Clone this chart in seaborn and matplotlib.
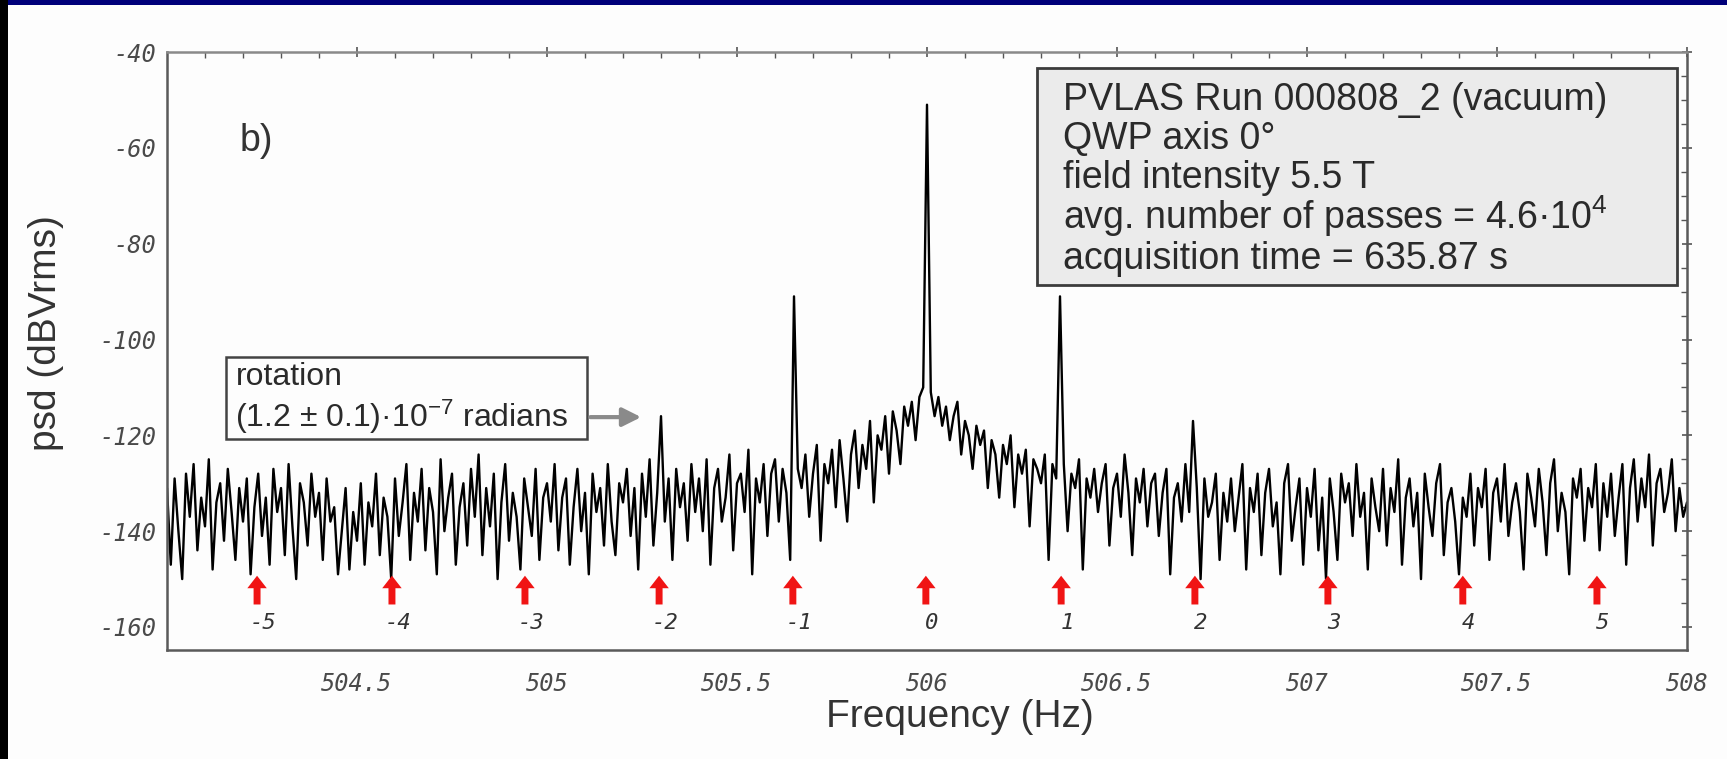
import numpy as np
import pandas as pd
import matplotlib
matplotlib.use("Agg")
import matplotlib.pyplot as plt
import seaborn as sns
from matplotlib.patches import Rectangle

# ---- data -------------------------------------------------------------
# Power spectral density (dBVrms), one value every 0.01 Hz from 504.00 Hz
freq_start = 504.0
freq_step = 0.01
psd_dbv = np.array([
    # 504.00 - 504.19
    -131, -147, -129, -140, -150, -128, -137, -126, -144, -133, -139, -125, -148, -134, -130, -142, -127, -136, -146, -131,
    # 504.20 - 504.39
    -138, -129, -149, -135, -128, -141, -133, -147, -127, -136, -131, -145, -126, -139, -150, -130, -134, -143, -128, -137,
    # 504.40 - 504.59
    -132, -146, -129, -138, -135, -149, -140, -131, -148, -136, -142, -130, -147, -134, -139, -128, -145, -133, -137, -150,
    # 504.60 - 504.79
    -129, -141, -134, -126, -146, -132, -138, -127, -144, -131, -136, -149, -125, -140, -133, -128, -147, -135, -130, -143,
    # 504.80 - 504.99
    -127, -137, -124, -145, -131, -139, -128, -150, -134, -126, -142, -132, -137, -148, -129, -135, -141, -127, -146, -133,
    # 505.00 - 505.19
    -130, -138, -126, -144, -133, -129, -147, -135, -127, -140, -132, -149, -128, -136, -131, -143, -126, -138, -145, -130,
    # 505.20 - 505.39
    -134, -127, -141, -131, -148, -128, -137, -125, -143, -132, -116, -138, -129, -146, -127, -135, -130, -142, -126, -136,
    # 505.40 - 505.59
    -129, -140, -125, -147, -131, -127, -138, -133, -124, -144, -130, -128, -136, -123, -149, -129, -134, -126, -141, -128,
    # 505.60 - 505.79
    -125, -138, -127, -132, -146, -91, -127, -131, -124, -137, -128, -122, -142, -126, -130, -123, -135, -121, -129, -138,
    # 505.80 - 505.99
    -124, -119, -131, -122, -127, -117, -134, -120, -123, -116, -128, -115, -119, -126, -114, -118, -113, -121, -112, -110,
    # 506.00 - 506.19
    -51, -111, -116, -112, -118, -114, -121, -116, -113, -124, -117, -120, -127, -118, -122, -119, -131, -121, -124, -133,
    # 506.20 - 506.39
    -122, -126, -120, -135, -124, -128, -123, -139, -125, -127, -130, -124, -146, -126, -129, -91, -126, -140, -128, -131,
    # 506.40 - 506.59
    -125, -148, -129, -133, -127, -136, -130, -126, -143, -131, -128, -137, -124, -132, -145, -129, -134, -127, -139, -130,
    # 506.60 - 506.79
    -128, -141, -132, -127, -149, -133, -130, -138, -126, -136, -117, -131, -150, -129, -137, -134, -128, -146, -132, -138,
    # 506.80 - 506.99
    -129, -140, -133, -126, -148, -131, -136, -128, -145, -132, -127, -139, -134, -149, -130, -126, -142, -135, -129, -147,
    # 507.00 - 507.19
    -131, -137, -127, -144, -133, -150, -129, -136, -146, -128, -134, -130, -141, -126, -137, -132, -148, -129, -135, -140,
    # 507.20 - 507.39
    -127, -143, -131, -136, -125, -147, -133, -129, -139, -132, -150, -128, -135, -141, -130, -126, -145, -134, -131, -138,
    # 507.40 - 507.59
    -149, -133, -137, -128, -143, -131, -135, -127, -146, -132, -129, -138, -126, -141, -134, -130, -136, -148, -128, -133,
    # 507.60 - 507.79
    -139, -127, -134, -145, -130, -125, -140, -132, -136, -149, -129, -133, -127, -142, -131, -135, -126, -144, -130, -137,
    # 507.80 - 507.99
    -128, -141, -133, -126, -147, -131, -125, -138, -129, -135, -124, -143, -130, -127, -136, -132, -125, -140, -131, -137,
    # 508.00
    -134,
], dtype=float)
freq_hz = np.round(freq_start + freq_step * np.arange(psd_dbv.size), 3)

# Sideband markers (orders of the magnet rotation frequency)
sideband_freq = [504.237, 504.592, 504.942, 505.295, 505.647, 505.997,
                 506.353, 506.705, 507.055, 507.410, 507.763]
sideband_labels = ["-5", "-4", "-3", "-2", "-1", "0", "1", "2", "3", "4", "5"]

xtick_vals = [504.5, 505.0, 505.5, 506.0, 506.5, 507.0, 507.5, 508.0]
xtick_labels = ["504.5", "505", "505.5", "506", "506.5", "507", "507.5", "508"]
ytick_vals = [-160, -140, -120, -100, -80, -60, -40]
ytick_labels = ["-160", "-140", "-120", "-100", "-80", "-60", "-40"]

info_lines = [
    "PVLAS Run 000808_2 (vacuum)",
    "QWP axis 0°",
    "field intensity 5.5 T",
    "avg. number of passes = 4.6·10$^{4}$",
    "acquisition time = 635.87 s",
]
rotation_lines = ["rotation", "(1.2 ± 0.1)·10$^{-7}$ radians"]

# ---- style ------------------------------------------------------------
sns.set_theme(style="white")
plt.rcParams["font.family"] = ["Liberation Sans", "DejaVu Sans"]
plt.rcParams["axes.unicode_minus"] = False
plt.rcParams["mathtext.fontset"] = "custom"
plt.rcParams["mathtext.rm"] = "Liberation Sans"
plt.rcParams["mathtext.it"] = "Liberation Sans:italic"
plt.rcParams["mathtext.bf"] = "Liberation Sans:bold"

W, H = 1727, 759
fig = plt.figure(figsize=(W / 100, H / 100), dpi=100)
fig.patch.set_facecolor("#fdfdfd")

# frame strips
fig.patches.append(Rectangle((0, 1 - 5 / H), 1, 5 / H, transform=fig.transFigure,
                             facecolor="#00007a", edgecolor="none", zorder=0))
fig.patches.append(Rectangle((0, 0), 8 / W, 1, transform=fig.transFigure,
                             facecolor="#000000", edgecolor="none", zorder=0))

ax_l, ax_r, ax_t, ax_b = 167, 1687, 52, 650
ax = fig.add_axes([ax_l / W, 1 - ax_b / H, (ax_r - ax_l) / W, (ax_b - ax_t) / H])
ax.set_facecolor("#fdfdfd")

df = pd.DataFrame({"Frequency (Hz)": freq_hz, "psd": psd_dbv})
sns.lineplot(data=df, x="Frequency (Hz)", y="psd", ax=ax, color="#000000",
             linewidth=1.7, estimator=None, sort=False)

ax.set_xlim(504.0, 508.0)
ax.set_ylim(-164.8, -40)

tick_font = dict(fontfamily="DejaVu Sans Mono", fontstyle="italic", fontsize=17, color="#4a4a4a")
ax.set_xticks(xtick_vals, labels=xtick_labels, **tick_font)
ax.set_yticks(ytick_vals, labels=ytick_labels, **tick_font)
ax.set_xticks(np.arange(504.1, 508.0, 0.1), minor=True)
ax.set_yticks(np.arange(-160, -40, 5), minor=True)
ax.tick_params(which="major", direction="inout", length=7, width=1.2, color="#555555",
               top=True, right=True)
ax.tick_params(which="minor", direction="in", length=4, width=1.0, color="#555555",
               top=True, right=True)
ax.tick_params(axis="x", which="major", pad=12)
ax.tick_params(axis="y", which="major", pad=4)

for s in ax.spines.values():
    s.set_color("#5a5a5a")
    s.set_linewidth(1.8)
ax.spines["top"].set_color("#8a8a8a")

ax.set_xlabel("Frequency (Hz)", fontsize=28, color="#333333")
ax.xaxis.set_label_coords((960 - ax_l) / (ax_r - ax_l), (ax_b - 717) / (ax_b - ax_t))
ax.xaxis.label.set_va("center")
ax.set_ylabel("psd (dBVrms)", fontsize=28, color="#333333")
ax.yaxis.set_label_coords((46 - ax_l) / (ax_r - ax_l), (ax_b - 333) / (ax_b - ax_t))
ax.yaxis.label.set_va("center")

# panel tag
ax.text(504.19, -58.5, "b)", fontsize=27, color="#333333", va="center", ha="left")

# sideband arrows and order labels
for f, lab in zip(sideband_freq, sideband_labels):
    ax.annotate("", xy=(f, -149.3), xytext=(f, -155.3),
                arrowprops=dict(facecolor="#f01414", edgecolor="none",
                                width=5, headwidth=14, headlength=9, shrink=0.0))
    ax.text(f + 0.016, -159.2, lab, fontfamily="DejaVu Sans Mono", fontstyle="italic",
            fontsize=16, color="#333333", ha="center", va="center")

# info box
def ax_x(px):
    return (px - ax_l) / (ax_r - ax_l)

def ax_y(py):
    return (ax_b - py) / (ax_b - ax_t)

ax.add_patch(Rectangle((ax_x(1037), ax_y(285)), ax_x(1677) - ax_x(1037), ax_y(68) - ax_y(285),
                       transform=ax.transAxes, facecolor="#ebebeb", edgecolor="#3c3c3c",
                       linewidth=2.0, zorder=5))
for line, base in zip(info_lines, [110, 149, 188, 229, 269]):
    ax.text(ax_x(1063), ax_y(base), line, transform=ax.transAxes, fontsize=27,
            color="#2a2a2a", ha="left", va="baseline", zorder=6)

# rotation annotation
ax.add_patch(Rectangle((504.155, -120.8), 0.95, 17.1, facecolor="#fdfdfd",
                       edgecolor="#444444", linewidth=1.8, zorder=5))
ax.text(504.18, -107.8, rotation_lines[0], fontsize=23, color="#2a2a2a",
        ha="left", va="center", zorder=6)
ax.text(504.18, -116.2, rotation_lines[1], fontsize=23, color="#2a2a2a",
        ha="left", va="center", zorder=6)
ax.annotate("", xy=(505.255, -116.2), xytext=(505.107, -116.2),
            arrowprops=dict(arrowstyle="-|>", color="#8a8a8a", lw=3, mutation_scale=28),
            zorder=6)

fig.savefig("out.png", dpi=100, facecolor=fig.get_facecolor())
